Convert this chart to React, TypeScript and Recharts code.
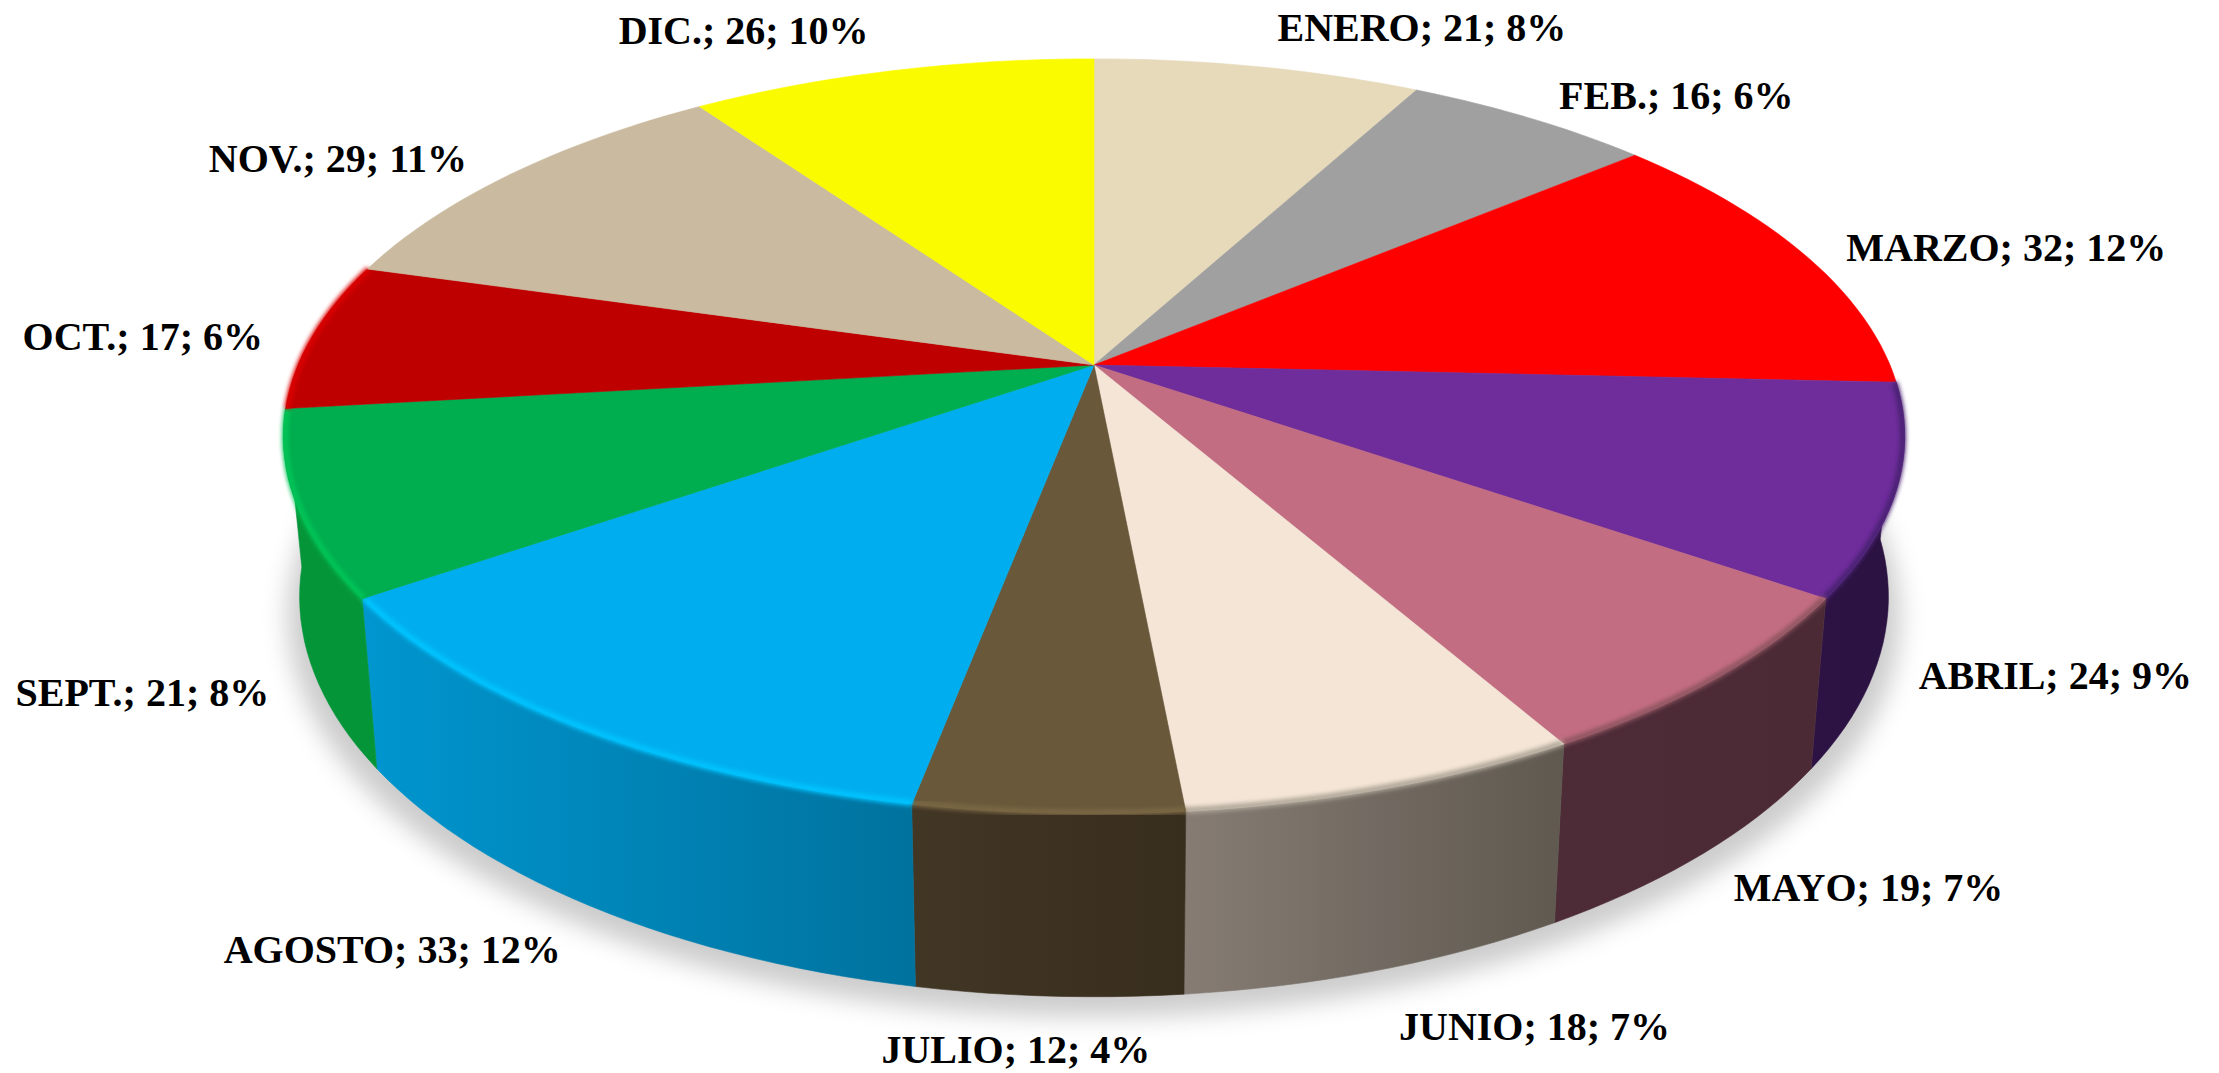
import React from 'react';
import { PieChart, Pie } from 'recharts';

const MONTHS = ['ENERO', 'FEB.', 'MARZO', 'ABRIL', 'MAYO', 'JUNIO', 'JULIO', 'AGOSTO', 'SEPT.', 'OCT.', 'NOV.', 'DIC.'];
const VALUES = [21, 16, 32, 24, 19, 18, 12, 33, 21, 17, 29, 26];

const TOP_COLORS = ['#E6DABB', '#A0A0A0', '#FF0000', '#6F2D9C', '#C36D82', '#F4E5D6', '#69583A', '#00AEEF', '#00AD4F', '#BF0000', '#CABBA0', '#FBFB00'];
const WALL_LEFT = [null, null, null, '#2D1345', '#4D2B37', '#867C74', '#423625', '#0096CF', '#049539', null, null, null];
const WALL_RIGHT = [null, null, null, '#2A1240', '#4B2A36', '#5F5950', '#382E1E', '#00729E', '#049539', null, null, null];
const RIM_COLORS = [null, null, null, '#4A2272', '#8F5561', '#AFA698', '#7A6844', '#00C4FF', '#00C557', '#DC0000', null, null];

// label offset from the projected slice edge
const LABEL_DX = [164, 146, 202, 175, 164, 155, -33, -198, -170, -170, -173, -148];
const LABEL_DY = [-39, -23, -7, 22, 35, 56, 53, 43, 24, 1, -16, -40];

const chartData = MONTHS.map((name, i) => ({ name, value: VALUES[i] }));
const shadowData = [{ name: 'shadow', value: VALUES.reduce((a, b) => a + b, 0) }];

const WIDTH = 2219;
const HEIGHT = 1073;
const CX = 1094;
const CY = 365;
const RADIUS = 796;
const TILT = 364 / 796;
const PERSP = 0.189;

const project = (cx: number, cy: number, r: number, deg: number, f = 1) => {
  const a = (deg * Math.PI) / 180;
  const u = f * Math.cos(a);
  const v = -f * Math.sin(a);
  const d = 1 - PERSP * v;
  return { x: cx + (r * u) / d, y: cy + (r * TILT * v) / d };
};

const lower = (p: { x: number; y: number }, cx: number, cy: number) => ({
  x: cx + 0.98 * (p.x - cx),
  y: p.y + 156 + 0.06 * (p.y - cy),
});

const arcPoints = (cx: number, cy: number, r: number, from: number, to: number, f = 1) => {
  const n = Math.max(2, Math.ceil(Math.abs(to - from) / 1.5));
  const pts = [];
  for (let i = 0; i <= n; i++) pts.push(project(cx, cy, r, from + ((to - from) * i) / n, f));
  return pts;
};

const toPath = (pts: { x: number; y: number }[], close = true) =>
  pts.map((p, i) => `${i ? 'L' : 'M'}${p.x.toFixed(1)},${p.y.toFixed(1)}`).join(' ') + (close ? ' Z' : '');

const TopSlice = (props: any) => {
  const { cx, cy, outerRadius, startAngle, endAngle, index } = props;
  const fill = TOP_COLORS[index];
  const path = toPath([{ x: cx, y: cy }, ...arcPoints(cx, cy, outerRadius, startAngle, endAngle)]);
  const rim = RIM_COLORS[index];
  return (
    <g>
      <path d={path} fill={fill} stroke={fill} strokeWidth={0.6} />
      {rim && (
        <path
          d={toPath(arcPoints(cx, cy, outerRadius, startAngle, endAngle, 0.998), false)}
          fill="none"
          stroke={rim}
          strokeWidth={6}
          filter="url(#rimBlur)"
        />
      )}
    </g>
  );
};

const WallSlice = (props: any) => {
  const { cx, cy, outerRadius, startAngle, endAngle, index } = props;
  if (!WALL_LEFT[index]) return <g />;
  const top = arcPoints(cx, cy, outerRadius, startAngle, endAngle);
  const bottom = top.map((p) => lower(p, cx, cy)).reverse();
  return (
    <g>
      <defs>
        <linearGradient id={`wall-${index}`} x1="0" y1="0" x2="1" y2="0">
          <stop offset="0" stopColor={WALL_LEFT[index] as string} />
          <stop offset="1" stopColor={WALL_RIGHT[index] as string} />
        </linearGradient>
      </defs>
      <path d={toPath([...top, ...bottom])} fill={`url(#wall-${index})`} stroke={`url(#wall-${index})`} strokeWidth={0.6} />
    </g>
  );
};

const ShadowDisk = (props: any) => {
  const { cx, cy, outerRadius, startAngle, endAngle } = props;
  const pts = arcPoints(cx, cy, outerRadius, startAngle, endAngle).map((p) => lower(p, cx, cy));
  return (
    <path
      d={toPath(pts.map((p) => ({ x: cx + 1.015 * (p.x - cx), y: p.y + 20 })))}
      fill="#000000"
      fillOpacity={0.2}
      filter="url(#shadowBlur)"
    />
  );
};

const renderLabel = (props: any) => {
  const { cx, cy, outerRadius, midAngle, index, name, value, percent } = props;
  let p = project(cx, cy, outerRadius, midAngle);
  if (WALL_LEFT[index]) p = lower(p, cx, cy);
  return (
    <text
      x={p.x + LABEL_DX[index]}
      y={p.y + LABEL_DY[index]}
      textAnchor="middle"
      dominantBaseline="central"
      fontFamily="'Liberation Serif', serif"
      fontWeight="bold"
      fontSize={40}
      fill="#000000"
    >
      {`${name}; ${value}; ${Math.round(percent * 100)}%`}
    </text>
  );
};

export default function App() {
  return (
    <div style={{ position: 'absolute', left: 0, top: 0, width: WIDTH, height: HEIGHT, background: '#fff' }}>
      <PieChart width={WIDTH} height={HEIGHT} margin={{ top: 0, right: 0, bottom: 0, left: 0 }}>
        <defs>
          <filter id="rimBlur" x="-20%" y="-20%" width="140%" height="140%">
            <feGaussianBlur stdDeviation="2" />
          </filter>
          <filter id="shadowBlur" x="-10%" y="-10%" width="120%" height="120%">
            <feGaussianBlur stdDeviation="12" />
          </filter>
        </defs>
        <Pie
          data={shadowData}
          dataKey="value"
          nameKey="name"
          cx={CX}
          cy={CY}
          outerRadius={RADIUS}
          startAngle={90}
          endAngle={-270}
          stroke="none"
          shape={ShadowDisk}
          isAnimationActive={false}
        />
        <Pie
          data={chartData}
          dataKey="value"
          nameKey="name"
          cx={CX}
          cy={CY}
          outerRadius={RADIUS}
          startAngle={90}
          endAngle={-270}
          stroke="none"
          shape={WallSlice}
          isAnimationActive={false}
        />
        <Pie
          data={chartData}
          dataKey="value"
          nameKey="name"
          cx={CX}
          cy={CY}
          outerRadius={RADIUS}
          startAngle={90}
          endAngle={-270}
          stroke="none"
          shape={TopSlice}
          label={renderLabel}
          labelLine={false}
          isAnimationActive={false}
        />
      </PieChart>
    </div>
  );
}
